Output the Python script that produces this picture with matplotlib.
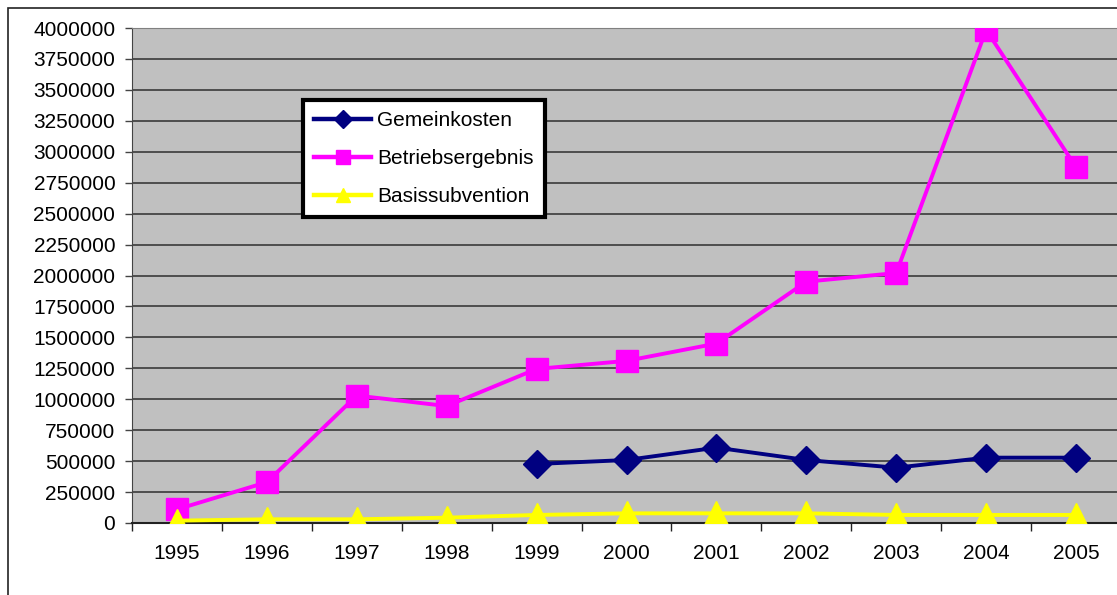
import numpy as np
import matplotlib.pyplot as plt
from matplotlib.patches import Rectangle

" data read off the chart "
years = ['1995', '1996', '1997', '1998', '1999', '2000', '2001', '2002', '2003', '2004', '2005']
gemeinkosten = [np.nan, np.nan, np.nan, np.nan, 477000, 509000, 609000, 509000, 447000, 528000, 528000]
betriebsergebnis = [110000, 330000, 1030000, 945000, 1245000, 1310000, 1450000, 1950000, 2020000, 3985000, 2875000]
basissubvention = [19000, 30000, 30000, 43000, 65000, 78000, 78000, 78000, 65000, 65000, 65000]

plt.rcParams['font.family'] = ['Liberation Sans', 'DejaVu Sans']

W, H = 1117, 595
fig = plt.figure(figsize=(W / 100, H / 100), dpi=100)

# outer chart border (cut off on right and bottom like the original)
fig.patches.append(Rectangle((8 / W, -0.1), 1.2, (H - 8) / H + 0.1, transform=fig.transFigure,
                             fill=False, edgecolor='#222222', linewidth=1.2))

ax = fig.add_axes([132 / W, (H - 523) / H, (1121 - 132) / W, (523 - 28) / H])
ax.set_facecolor('#C0C0C0')

x = np.arange(len(years))
ax.plot(x, gemeinkosten, color='#000080', lw=2.8, marker='D', ms=14, label='Gemeinkosten', zorder=3)
ax.plot(x, betriebsergebnis, color='#FF00FF', lw=2.8, marker='s', ms=16, label='Betriebsergebnis', zorder=4)
ax.plot(x, basissubvention, color='#FFFF00', lw=2.8, marker='^', ms=17, label='Basissubvention', zorder=5)

ax.set_xlim(-0.5, len(years) - 0.5)
ax.set_ylim(0, 4000000)
ax.set_yticks(np.arange(0, 4000001, 250000))
ax.yaxis.set_major_formatter(plt.FuncFormatter(lambda v, p: '%d' % v))
ax.grid(axis='y', color='#3a3a3a', lw=1.2)
ax.set_axisbelow(True)

ax.set_xticks(x)
ax.set_xticklabels(years)
ax.set_xticks(np.arange(-0.5, len(years), 1), minor=True)
ax.tick_params(axis='x', which='major', length=0, pad=15, labelsize=15)
ax.tick_params(axis='x', which='minor', length=6, width=1, color='#222222')
ax.tick_params(axis='y', length=5, width=1, color='#444444', pad=7, labelsize=15)

ax.spines['top'].set_color('#808080')
ax.spines['right'].set_visible(False)
ax.spines['left'].set_color('#444444')
ax.spines['bottom'].set_color('#222222')
ax.spines['bottom'].set_linewidth(1.5)

leg = ax.legend(loc='upper left', bbox_to_anchor=((303 - 132) / (1121 - 132), (523 - 100) / 495),
                fontsize=15, frameon=True, fancybox=False, framealpha=1, markerscale=0.62,
                edgecolor='black', handlelength=2.7, borderpad=0.55, labelspacing=0.9,
                handletextpad=0.3, borderaxespad=0)
leg.get_frame().set_linewidth(3)
leg.set_zorder(10)
for ln in leg.get_lines():
    ln.set_linewidth(3.2)

fig.savefig('out.png', dpi=100)
